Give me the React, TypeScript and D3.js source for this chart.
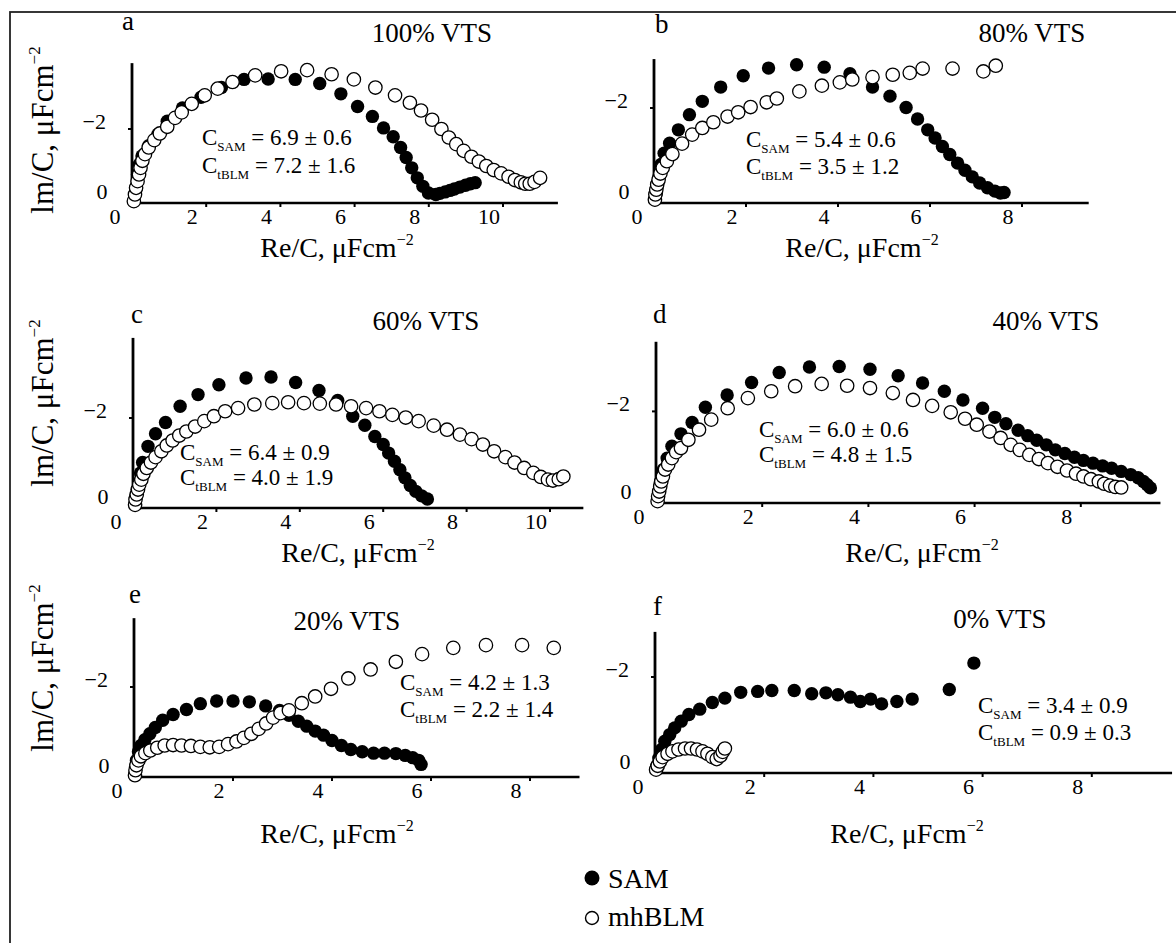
import React from 'react';
import * as d3 from 'd3';

type Pt = [number, number];

const panelLetters = ['a', 'b', 'c', 'd', 'e', 'f'];
const panelTitles = ['100% VTS', '80% VTS', '60% VTS', '40% VTS', '20% VTS', '0% VTS'];
const capSAM = ['6.9 ± 0.6', '5.4 ± 0.6', '6.4 ± 0.9', '6.0 ± 0.6', '4.2 ± 1.3', '3.4 ± 0.9'];
const capBLM = ['7.2 ± 1.6', '3.5 ± 1.2', '4.0 ± 1.9', '4.8 ± 1.5', '2.2 ± 1.4', '0.9 ± 0.3'];
const xTickValues = [
  [0, 2, 4, 6, 8, 10],
  [0, 2, 4, 6, 8],
  [0, 2, 4, 6, 8, 10],
  [0, 2, 4, 6, 8],
  [0, 2, 4, 6, 8],
  [0, 2, 4, 6, 8],
];
const yTickValues = [0, -2];
const seriesNames = ['SAM', 'mhBLM'];

// Panel a — 100% VTS
const samA: Pt[] = [
  [0.05, -0.05], [0.10, -0.41], [0.15, -0.77], [0.20, -1.05], [0.27, -1.27], [0.45, -1.55],
  [0.70, -1.86], [0.95, -2.21], [1.36, -2.57], [1.86, -2.86], [2.41, -3.12], [3.02, -3.34],
  [3.67, -3.35], [4.40, -3.34], [5.06, -3.23], [5.63, -2.95], [6.08, -2.61], [6.48, -2.34],
  [6.78, -2.03], [7.04, -1.79], [7.24, -1.50], [7.39, -1.23], [7.54, -0.95], [7.69, -0.68],
  [7.84, -0.45], [7.99, -0.27], [8.19, -0.23], [8.30, -0.26], [8.44, -0.30], [8.57, -0.34],
  [8.69, -0.38], [8.84, -0.43], [8.99, -0.48], [9.12, -0.52], [9.25, -0.55],
];
const blmA: Pt[] = [
  [0.05, -0.05], [0.08, -0.23], [0.11, -0.41], [0.15, -0.59], [0.19, -0.77], [0.23, -0.95],
  [0.28, -1.14], [0.35, -1.32], [0.45, -1.50], [0.60, -1.70], [0.75, -1.88], [0.95, -2.06],
  [1.16, -2.30], [1.34, -2.45], [1.61, -2.68], [1.96, -2.91], [2.31, -3.09], [2.71, -3.27],
  [3.32, -3.45], [4.02, -3.56], [4.72, -3.59], [5.38, -3.48], [5.98, -3.34], [6.56, -3.12],
  [7.09, -2.91], [7.49, -2.71], [7.79, -2.50], [8.09, -2.25], [8.34, -2.00], [8.54, -1.77],
  [8.74, -1.59], [8.94, -1.41], [9.15, -1.25], [9.35, -1.12], [9.55, -1.00], [9.75, -0.89],
  [9.95, -0.80], [10.15, -0.71], [10.32, -0.62], [10.48, -0.56], [10.60, -0.52], [10.72, -0.52],
  [10.85, -0.57], [11.0, -0.68],
];

// Panel b — 80% VTS
const samB: Pt[] = [
  [0.02, -0.07], [0.05, -0.21], [0.07, -0.35], [0.11, -0.56], [0.15, -0.81], [0.22, -1.05],
  [0.34, -1.26], [0.53, -1.54], [0.77, -1.86], [1.05, -2.14], [1.45, -2.44], [1.94, -2.68],
  [2.49, -2.84], [3.10, -2.91], [3.70, -2.86], [4.26, -2.72], [4.75, -2.44], [5.13, -2.25],
  [5.48, -2.01], [5.73, -1.77], [5.95, -1.54], [6.11, -1.37], [6.27, -1.19], [6.43, -1.02],
  [6.60, -0.84], [6.76, -0.69], [6.92, -0.55], [7.08, -0.42], [7.25, -0.32], [7.41, -0.25],
  [7.53, -0.21], [7.61, -0.22],
];
const blmB: Pt[] = [
  [0.02, -0.07], [0.03, -0.18], [0.05, -0.28], [0.07, -0.39], [0.10, -0.49], [0.14, -0.62],
  [0.19, -0.74], [0.28, -0.88], [0.40, -1.03], [0.61, -1.25], [0.83, -1.44], [1.05, -1.58],
  [1.29, -1.70], [1.60, -1.82], [1.83, -1.91], [2.10, -2.02], [2.45, -2.12], [2.67, -2.20],
  [3.16, -2.35], [3.65, -2.47], [4.04, -2.54], [4.31, -2.60], [4.75, -2.65], [5.19, -2.70],
  [5.56, -2.74], [5.84, -2.83], [6.49, -2.83], [7.16, -2.77], [7.43, -2.89],
];

// Panel c — 60% VTS
const samC: Pt[] = [
  [0.05, -0.11], [0.07, -0.26], [0.10, -0.41], [0.14, -0.56], [0.18, -0.78], [0.23, -1.01],
  [0.36, -1.37], [0.54, -1.65], [0.78, -1.90], [1.13, -2.26], [1.56, -2.52], [2.06, -2.74],
  [2.71, -2.89], [3.31, -2.91], [3.90, -2.79], [4.46, -2.61], [4.91, -2.39], [5.27, -2.04],
  [5.56, -1.84], [5.80, -1.59], [6.00, -1.41], [6.13, -1.22], [6.27, -1.04], [6.40, -0.85],
  [6.52, -0.67], [6.65, -0.50], [6.78, -0.37], [6.92, -0.27], [7.06, -0.20],
];
const blmC: Pt[] = [
  [0.05, -0.07], [0.06, -0.19], [0.09, -0.30], [0.12, -0.41], [0.15, -0.52], [0.20, -0.63],
  [0.25, -0.76], [0.33, -0.89], [0.43, -1.01], [0.54, -1.13], [0.68, -1.26], [0.81, -1.39],
  [0.95, -1.50], [1.11, -1.61], [1.28, -1.70], [1.49, -1.81], [1.71, -1.93], [1.94, -2.04],
  [2.21, -2.15], [2.52, -2.22], [2.91, -2.30], [3.34, -2.33], [3.72, -2.35], [4.10, -2.33],
  [4.48, -2.32], [4.87, -2.30], [5.23, -2.26], [5.59, -2.22], [5.91, -2.15], [6.22, -2.07],
  [6.54, -2.01], [6.85, -1.93], [7.21, -1.83], [7.53, -1.74], [7.84, -1.63], [8.12, -1.53],
  [8.39, -1.41], [8.66, -1.26], [8.93, -1.13], [9.15, -1.01], [9.38, -0.89], [9.60, -0.78],
  [9.78, -0.69], [9.95, -0.63], [10.07, -0.61], [10.21, -0.64], [10.32, -0.70],
];

// Panel d — 40% VTS
const samD: Pt[] = [
  [0.03, -0.07], [0.05, -0.22], [0.08, -0.44], [0.14, -0.73], [0.21, -0.98], [0.30, -1.24],
  [0.47, -1.51], [0.68, -1.76], [0.93, -2.09], [1.34, -2.36], [1.80, -2.63], [2.32, -2.85],
  [2.89, -2.97], [3.45, -2.98], [4.03, -2.92], [4.56, -2.78], [5.02, -2.62], [5.43, -2.44],
  [5.78, -2.25], [6.15, -2.07], [6.38, -1.87], [6.59, -1.73], [6.82, -1.59], [7.00, -1.47],
  [7.17, -1.37], [7.35, -1.27], [7.52, -1.16], [7.70, -1.08], [7.88, -1.00], [8.05, -0.93],
  [8.23, -0.87], [8.41, -0.81], [8.58, -0.76], [8.76, -0.69], [8.94, -0.62], [9.08, -0.55],
  [9.18, -0.47], [9.25, -0.40], [9.31, -0.33],
];
const blmD: Pt[] = [
  [0.03, -0.04], [0.04, -0.15], [0.06, -0.25], [0.08, -0.36], [0.10, -0.47], [0.13, -0.58],
  [0.17, -0.73], [0.23, -0.84], [0.30, -0.98], [0.38, -1.11], [0.47, -1.20], [0.61, -1.38],
  [0.81, -1.60], [1.04, -1.82], [1.35, -2.07], [1.73, -2.29], [2.17, -2.44], [2.62, -2.55],
  [3.12, -2.60], [3.60, -2.56], [4.03, -2.51], [4.46, -2.40], [4.84, -2.25], [5.20, -2.12],
  [5.55, -1.98], [5.82, -1.84], [6.04, -1.71], [6.28, -1.56], [6.49, -1.42], [6.68, -1.27],
  [6.85, -1.16], [7.03, -1.05], [7.21, -0.96], [7.38, -0.87], [7.56, -0.79], [7.74, -0.71],
  [7.91, -0.64], [8.05, -0.58], [8.19, -0.52], [8.34, -0.47], [8.44, -0.42], [8.55, -0.38],
  [8.65, -0.35], [8.76, -0.34],
];

// Panel e — 20% VTS
const samE: Pt[] = [
  [0.02, -0.07], [0.03, -0.22], [0.05, -0.37], [0.09, -0.56], [0.14, -0.70], [0.22, -0.83],
  [0.32, -0.96], [0.43, -1.10], [0.58, -1.26], [0.79, -1.39], [1.06, -1.50], [1.34, -1.63],
  [1.67, -1.69], [2.00, -1.69], [2.33, -1.67], [2.66, -1.58], [2.94, -1.48], [3.13, -1.37],
  [3.32, -1.24], [3.49, -1.13], [3.66, -1.02], [3.83, -0.93], [4.00, -0.81], [4.19, -0.70],
  [4.38, -0.61], [4.61, -0.56], [4.84, -0.53], [5.06, -0.53], [5.29, -0.52], [5.48, -0.48],
  [5.63, -0.43], [5.75, -0.37], [5.80, -0.28],
];
const blmE: Pt[] = [
  [0.02, -0.04], [0.03, -0.15], [0.05, -0.26], [0.09, -0.37], [0.14, -0.46], [0.23, -0.53],
  [0.33, -0.59], [0.47, -0.65], [0.62, -0.70], [0.79, -0.71], [0.96, -0.70], [1.15, -0.69],
  [1.34, -0.67], [1.53, -0.66], [1.72, -0.67], [1.90, -0.73], [2.07, -0.79], [2.22, -0.87],
  [2.37, -0.96], [2.52, -1.07], [2.67, -1.19], [2.81, -1.32], [2.96, -1.42], [3.13, -1.48],
  [3.39, -1.64], [3.66, -1.79], [3.98, -1.96], [4.33, -2.19], [4.78, -2.39], [5.29, -2.56],
  [5.82, -2.73], [6.45, -2.87], [7.11, -2.93], [7.84, -2.93], [8.48, -2.87],
];

// Panel f — 0% VTS
const samF: Pt[] = [
  [0.03, -0.14], [0.07, -0.31], [0.12, -0.49], [0.18, -0.66], [0.27, -0.80], [0.36, -0.94],
  [0.48, -1.08], [0.62, -1.22], [0.82, -1.33], [1.05, -1.47], [1.28, -1.56], [1.57, -1.68],
  [1.88, -1.70], [2.14, -1.72], [2.55, -1.72], [2.87, -1.65], [3.13, -1.67], [3.35, -1.63],
  [3.58, -1.58], [3.76, -1.49], [3.95, -1.54], [4.15, -1.44], [4.43, -1.49], [4.71, -1.54],
  [5.39, -1.74], [5.84, -2.29],
];
const blmF: Pt[] = [
  [0.02, -0.07], [0.05, -0.15], [0.09, -0.24], [0.14, -0.33], [0.23, -0.40], [0.32, -0.45],
  [0.43, -0.49], [0.55, -0.51], [0.66, -0.51], [0.77, -0.49], [0.87, -0.45], [0.96, -0.40],
  [1.05, -0.33], [1.13, -0.29], [1.20, -0.36], [1.24, -0.44], [1.28, -0.51],
];

const samSeries = [samA, samB, samC, samD, samE, samF];
const blmSeries = [blmA, blmB, blmC, blmD, blmE, blmF];

// Layout (pixel geometry of each panel)
const layouts = [
  { ox: 132, oy: 203, kx: 37.1, ky: 37, xMax: 11.48, yMax: 3.78,
    letter: [122, 30], title: [432, 42], cap: [202, 145, 173], xTitle: [337, 257], yTitle: 130 },
  { ox: 654, oy: 203, kx: 46, ky: 47.5, xMax: 9.45, yMax: 3.03,
    letter: [655, 33], title: [1032, 42], cap: [746, 147, 174], xTitle: [862, 257], yTitle: null },
  { ox: 133, oy: 508, kx: 41.7, ky: 45, xMax: 10.8, yMax: 3.78,
    letter: [131, 323], title: [426, 330], cap: [180, 460, 485], xTitle: [358, 562], yTitle: 403 },
  { ox: 656, oy: 503, kx: 53.1, ky: 45.8, xMax: 9.5, yMax: 3.52,
    letter: [653, 323], title: [1046, 330], cap: [759, 437, 462], xTitle: [922, 562], yTitle: null },
  { ox: 134, oy: 777, kx: 49.5, ky: 45, xMax: 9.0, yMax: 3.53,
    letter: [129, 603], title: [347, 630], cap: [400, 690, 717], xTitle: [337, 843], yTitle: 668 },
  { ox: 655, oy: 773, kx: 54.6, ky: 48, xMax: 9.47, yMax: 2.94,
    letter: [653, 615], title: [1000, 628], cap: [978, 713, 740], xTitle: [907, 843], yTitle: null },
];

const FONT = "'Liberation Serif', 'DejaVu Serif', 'Times New Roman', serif";
const R = 6.7;
const fmt = (v: number) => (v < 0 ? '\u2212' + Math.abs(v) : String(v));

function Panel({ i }: { i: number }) {
  const L = layouts[i];
  const x = d3.scaleLinear().domain([0, L.xMax]).range([L.ox, L.ox + L.xMax * L.kx]);
  const y = d3.scaleLinear().domain([0, -L.yMax]).range([L.oy, L.oy - L.yMax * L.ky]);
  const sam = samSeries[i];
  const blm = blmSeries[i];
  return (
    <g>
      <line x1={x(0)} x2={x(L.xMax)} y1={y(0)} y2={y(0)} stroke="#000" strokeWidth={2.6} />
      <line x1={x(0)} x2={x(0)} y1={y(0) + 1.3} y2={y(-L.yMax)} stroke="#000" strokeWidth={2.8} />
      {xTickValues[i].filter((v) => v > 0).map((v) => (
        <line key={'xt' + v} x1={x(v)} x2={x(v)} y1={y(0)} y2={y(0) + 4} stroke="#000" strokeWidth={2} />
      ))}
      {yTickValues.filter((v) => v < 0).map((v) => (
        <line key={'yt' + v} x1={x(0) - 4} x2={x(0)} y1={y(v)} y2={y(v)} stroke="#000" strokeWidth={2} />
      ))}
      {xTickValues[i].map((v) => (
        <text key={'xl' + v} x={v === 0 ? x(0) - 17 : x(v) - 14} y={y(0) + 21} fontSize={22}
          textAnchor="middle" fontFamily={FONT}>{fmt(v)}</text>
      ))}
      {yTickValues.map((v) => (
        v === 0 ? (
          <text key={'yl' + v} x={x(0) - 30} y={y(0) - 4} fontSize={22} textAnchor="middle" fontFamily={FONT}>{fmt(v)}</text>
        ) : (
          <text key={'yl' + v} x={x(0) - 26} y={y(v)} fontSize={22} textAnchor="end" fontFamily={FONT}>{fmt(v)}</text>
        )
      ))}
      {sam.map((d, k) => (
        <circle key={'s' + k} cx={x(d[0])} cy={y(d[1])} r={R} fill="#000" />
      ))}
      {blm.map((d, k) => (
        <circle key={'b' + k} cx={x(d[0])} cy={y(d[1])} r={R} fill="#fff" stroke="#000" strokeWidth={1.3} />
      ))}
      <text x={L.letter[0]} y={L.letter[1]} fontSize={27} fontFamily={FONT}>{panelLetters[i]}</text>
      <text x={L.title[0]} y={L.title[1]} fontSize={27} textAnchor="middle" fontFamily={FONT}>{panelTitles[i]}</text>
      <text x={L.cap[0]} y={L.cap[1]} fontSize={23} fontFamily={FONT}>
        C<tspan fontSize={13} dy={6}>SAM</tspan><tspan dy={-6}>{' = ' + capSAM[i]}</tspan>
      </text>
      <text x={L.cap[0]} y={L.cap[2]} fontSize={23} fontFamily={FONT}>
        C<tspan fontSize={13} dy={6}>tBLM</tspan><tspan dy={-6}>{' = ' + capBLM[i]}</tspan>
      </text>
      <text x={L.xTitle[0]} y={L.xTitle[1]} fontSize={28} textAnchor="middle" fontFamily={FONT}>
        Re/C, μFcm<tspan fontSize={16} dy={-12}>{'\u22122'}</tspan>
      </text>
      {L.yTitle !== null && (
        <text transform={`translate(53,${L.yTitle}) rotate(-90)`} fontSize={31} textAnchor="middle" fontFamily={FONT}>
          lm/C, μFcm<tspan fontSize={17} dy={-13}>{'\u22122'}</tspan>
        </text>
      )}
    </g>
  );
}

export default function App() {
  return (
    <svg width={1176} height={943} style={{ position: 'absolute', left: 0, top: 0, display: 'block', background: '#fff' }}>
      <rect x={0} y={0} width={1176} height={943} fill="#fff" />
      <rect x={10} y={12} width={1180} height={960} fill="none" stroke="#222" strokeWidth={1.8} />
      {layouts.map((_, i) => <Panel key={i} i={i} />)}
      <circle cx={592} cy={878} r={7.5} fill="#000" />
      <text x={608} y={888} fontSize={28} fontFamily={FONT}>{seriesNames[0]}</text>
      <circle cx={592} cy={918} r={6.5} fill="#fff" stroke="#000" strokeWidth={1.4} />
      <text x={608} y={926} fontSize={28} fontFamily={FONT}>{seriesNames[1]}</text>
    </svg>
  );
}
